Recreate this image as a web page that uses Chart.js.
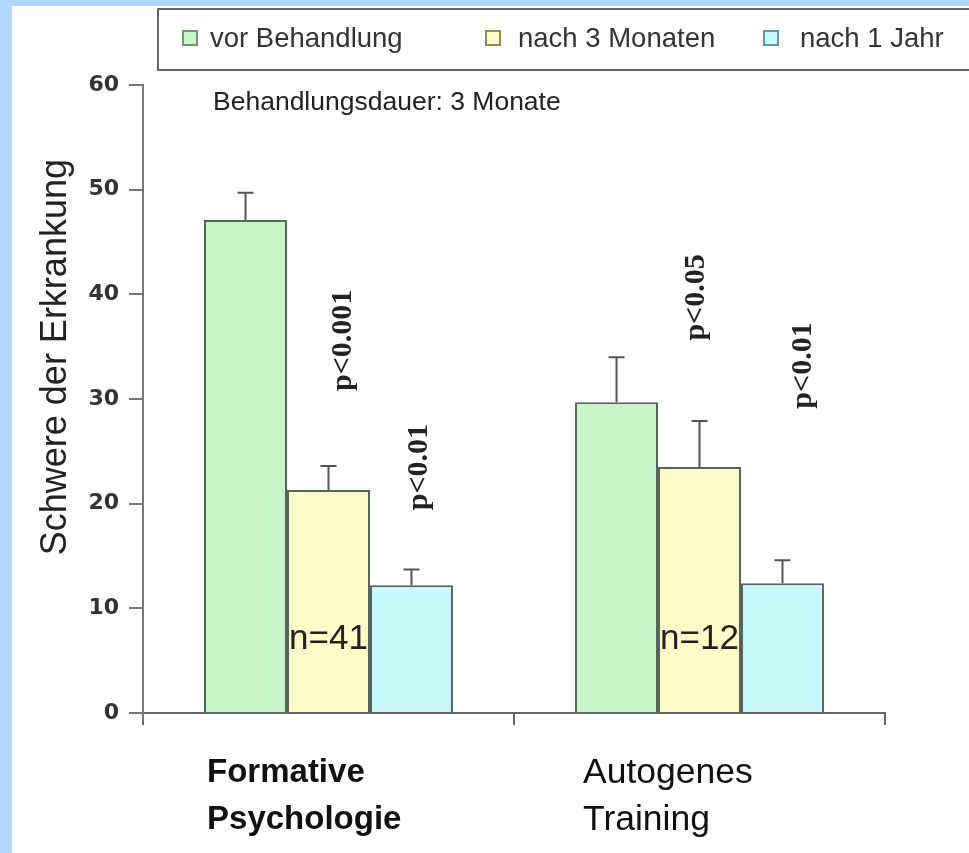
<!DOCTYPE html>
<html>
<head>
<meta charset="utf-8">
<script src="https://cdn.jsdelivr.net/npm/chart.js@4/dist/chart.umd.min.js"></script>
<style>
  html, body { margin: 0; padding: 0; background: #b3d6fb; width: 969px; height: 853px; overflow: hidden; }
  #wrap { position: absolute; left: 12px; top: 6px; width: 957px; height: 847px; background: #fff; }
</style>
</head>
<body>
<div id="wrap"><canvas id="chart" width="957" height="847"></canvas></div>
<script>
// Daten aus der Abbildung
const kategorien = [["Formative", "Psychologie"], ["Autogenes", "Training"]];
const serienNamen = ["vor Behandlung", "nach 3 Monaten", "nach 1 Jahr"];
const werteVor = [47.1, 29.7];
const werteNach3 = [21.3, 23.5];
const werteNach1 = [12.2, 12.4];
const fehlerVor = [2.6, 4.3];
const fehlerNach3 = [2.3, 4.4];
const fehlerNach1 = [1.5, 2.2];
const yTicks = [0, 10, 20, 30, 40, 50, 60];
const pWerte = ["p<0.001", "p<0.01", "p<0.05", "p<0.01"];
const nWerte = ["n=41", "n=12"];
const achsenTitel = "Schwere der Erkrankung";
const hinweis = "Behandlungsdauer: 3 Monate";

const farben = ["#c8f5c8", "#fdfbc8", "#c8f8fb"];
const legendeRand = ["#6f9a6f", "#8f8f55", "#5f9a9a"];
const fehlerListe = [fehlerVor, fehlerNach3, fehlerNach1];

// Fehlerbalken, Beschriftungen und Legende
const zusatzPlugin = {
  id: "zusatz",
  afterDatasetsDraw(chart) {
    const ctx = chart.ctx;
    const y = chart.scales.y;
    ctx.save();
    ctx.strokeStyle = "#555";
    ctx.lineWidth = 2;
    chart.data.datasets.forEach((ds, i) => {
      const meta = chart.getDatasetMeta(i);
      meta.data.forEach((bar, j) => {
        const top = y.getPixelForValue(ds.data[j] + fehlerListe[i][j]);
        ctx.beginPath();
        ctx.moveTo(bar.x, bar.y);
        ctx.lineTo(bar.x, top);
        ctx.moveTo(bar.x - 8, top);
        ctx.lineTo(bar.x + 8, top);
        ctx.stroke();
      });
    });
    ctx.restore();
  },
  afterDraw(chart) {
    const ctx = chart.ctx;
    const x = chart.scales.x;
    const y = chart.scales.y;
    const breite = x.getPixelForValue(1) - x.getPixelForValue(0);
    ctx.save();

    // y-Achse etwas unter 0 verlängert
    ctx.strokeStyle = "#777";
    ctx.lineWidth = 2;
    ctx.beginPath();
    ctx.moveTo(y.right, y.bottom);
    ctx.lineTo(y.right, y.bottom + 8);
    ctx.stroke();

    // Legende mit Rahmen
    ctx.strokeStyle = "#666";
    ctx.lineWidth = 2;
    ctx.strokeRect(146, 3, 830, 61);
    const legX = [171, 474, 752];
    const legTextX = [198, 506, 788];
    ctx.font = "27.5px 'Liberation Sans', Arial, sans-serif";
    ctx.textBaseline = "alphabetic";
    ctx.textAlign = "left";
    serienNamen.forEach((name, i) => {
      ctx.fillStyle = farben[i];
      ctx.fillRect(legX[i], 25, 14, 14);
      ctx.strokeStyle = legendeRand[i];
      ctx.lineWidth = 2;
      ctx.strokeRect(legX[i], 25, 14, 14);
      ctx.fillStyle = "#333";
      ctx.fillText(name, legTextX[i], 41);
    });

    // Achsentitel
    ctx.save();
    ctx.translate(44, y.getPixelForValue(34));
    ctx.rotate(-Math.PI / 2);
    ctx.textAlign = "center";
    ctx.textBaseline = "middle";
    ctx.font = "36px 'Liberation Sans', Arial, sans-serif";
    ctx.fillStyle = "#222";
    ctx.fillText(achsenTitel, 0, 0);
    ctx.restore();

    // Hinweis oben
    ctx.font = "26.5px 'Liberation Sans', Arial, sans-serif";
    ctx.fillStyle = "#222";
    ctx.textBaseline = "middle";
    ctx.fillText(hinweis, 201, y.getPixelForValue(58.3));

    // Kategorien (links ausgerichtet an der ersten Säule)
    const metaErste = chart.getDatasetMeta(0);
    ctx.fillStyle = "#111";
    ctx.textBaseline = "middle";
    kategorien.forEach((zeilen, i) => {
      const bar = metaErste.data[i];
      const links = bar.x - bar.width / 2 + (i === 0 ? 3 : 8);
      ctx.font = (i === 0 ? "bold 33px " : "35.5px ") + "'Liberation Sans', Arial, sans-serif";
      zeilen.forEach((z, k) => {
        ctx.fillText(z, links, y.bottom + 60 + k * 47);
      });
    });

    // n=...
    ctx.font = "35px 'Liberation Sans', Arial, sans-serif";
    ctx.textAlign = "center";
    ctx.fillStyle = "#222";
    nWerte.forEach((n, i) => {
      ctx.fillText(n, x.getPixelForValue(i), y.getPixelForValue(7.0));
    });

    // p-Werte, gedreht
    const pPos = [[0, 0.04, 35.6], [0, 0.245, 23.5], [1, -0.01, 39.7], [1, 0.28, 33.2]];
    ctx.font = "bold 30px 'Liberation Serif', 'Times New Roman', serif";
    pWerte.forEach((p, i) => {
      const [kat, dx, wert] = pPos[i];
      ctx.save();
      ctx.translate(x.getPixelForValue(kat) + dx * breite, y.getPixelForValue(wert));
      ctx.rotate(-Math.PI / 2);
      ctx.textAlign = "center";
      ctx.textBaseline = "middle";
      ctx.fillText(p, 0, 0);
      ctx.restore();
    });

    ctx.restore();
  }
};

const datensaetze = [werteVor, werteNach3, werteNach1].map((werte, i) => ({
  label: serienNamen[i],
  data: werte,
  backgroundColor: farben[i],
  borderColor: "#56655a",
  borderWidth: 2,
  borderSkipped: "bottom",
  categoryPercentage: 0.671,
  barPercentage: 1.0
}));

new Chart(document.getElementById("chart"), {
  type: "bar",
  data: {
    labels: kategorien,
    datasets: datensaetze
  },
  options: {
    responsive: false,
    animation: false,
    devicePixelRatio: 1,
    layout: { padding: { top: 79, right: 84, left: 0, bottom: 0 } },
    plugins: {
      legend: { display: false },
      tooltip: { enabled: false }
    },
    scales: {
      x: {
        grid: { offset: true, drawOnChartArea: false, drawTicks: true, tickLength: 12, color: "#666", lineWidth: 2 },
        border: { display: true, color: "#666", width: 2 },
        ticks: { display: false },
        afterFit(scale) { scale.height = 140; }
      },
      y: {
        min: 0,
        max: 60,
        afterBuildTicks(scale) { scale.ticks = yTicks.map(v => ({ value: v })); },
        grid: { drawOnChartArea: false, drawTicks: true, tickLength: 14, color: "#777", lineWidth: 2 },
        border: { display: true, color: "#777", width: 2 },
        ticks: {
          padding: 10,
          color: "#333",
          font: { family: "'DejaVu Sans', sans-serif", size: 22, weight: "bold" }
        },
        afterFit(scale) { scale.width = 131; }
      }
    }
  },
  plugins: [zusatzPlugin]
});
</script>
</body>
</html>
